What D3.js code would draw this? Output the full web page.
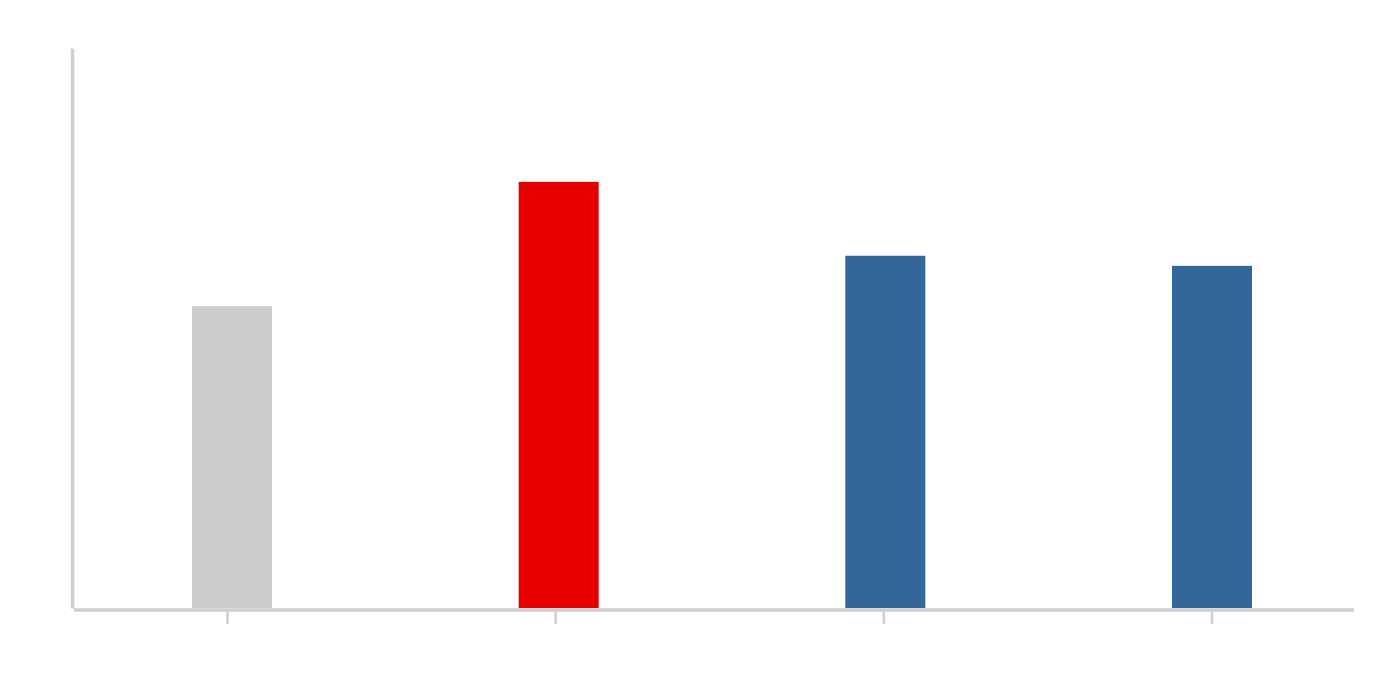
<!DOCTYPE html>
<html>
<head>
<meta charset="utf-8">
<script src="https://cdn.jsdelivr.net/npm/d3@7"></script>
<style>
  html, body { margin: 0; padding: 0; background: #ffffff; }
  svg { display: block; }
</style>
</head>
<body>
<svg id="chart" width="1400" height="680"></svg>
<script>
// Data
const categories = ["A", "B", "C", "D"];
const values = [53.9, 76.1, 62.9, 61.1];
const barColors = ["#cccccc", "#e80000", "#336699", "#336699"];
const yDomain = [0, 100];

const svg = d3.select("#chart");
const W = 1400, H = 680;
const axisColor = "#cfcfcf";

const y = d3.scaleLinear().domain(yDomain).range([608, 48]);
const xBar = d3.scalePoint().domain(categories).range([232, 1212]);
const xTick = d3.scalePoint().domain(categories).range([227, 1211.5]);
const barW = 80;

// bars
svg.append("g").selectAll("rect")
  .data(categories)
  .join("rect")
  .attr("x", (d) => xBar(d) - barW / 2)
  .attr("width", barW)
  .attr("y", (d, i) => y(values[i]))
  .attr("height", (d, i) => y(0) - y(values[i]))
  .attr("fill", (d, i) => barColors[i]);

// y axis line (no ticks/labels)
const yAxis = d3.axisLeft(y).tickValues([]).tickSize(0).tickSizeOuter(0);
const gy = svg.append("g").attr("transform", "translate(72,0)").call(yAxis);
gy.select(".domain").attr("stroke", axisColor).attr("stroke-width", 3.5);

// x axis
const xAxis = d3.axisBottom(xTick).tickSize(14).tickSizeOuter(0).tickFormat("");
const gx = svg.append("g").attr("transform", "translate(0,610)").call(xAxis);
gx.select(".domain").remove();
gx.selectAll(".tick line").attr("stroke", axisColor).attr("stroke-width", 2.5);
gx.append("line")
  .attr("x1", 74).attr("x2", 1354)
  .attr("y1", 0).attr("y2", 0)
  .attr("stroke", axisColor).attr("stroke-width", 3.5);
</script>
</body>
</html>
